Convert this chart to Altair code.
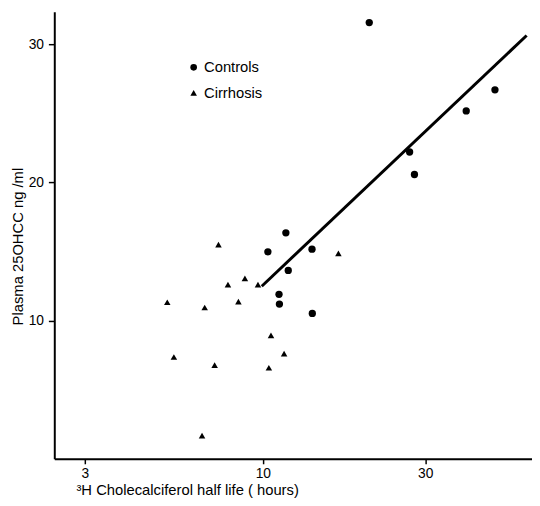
import altair as alt
import pandas as pd

# Controls (circles): half life (hours), plasma 25OHCC (ng/ml)
ctrl_x = [20.55, 48.1, 39.6, 27.0, 27.9, 11.69, 10.35, 13.95, 11.88, 11.16, 11.19, 13.98]
ctrl_y = [31.56, 26.7, 25.17, 22.2, 20.57, 16.35, 14.98, 15.17, 13.63, 11.9, 11.2, 10.52]

# Cirrhosis (triangles)
cirr_x = [7.41, 16.68, 8.86, 7.90, 9.68, 5.24, 8.48, 6.75, 10.57, 11.55, 5.48, 7.22, 10.42, 6.63]
cirr_y = [15.5, 14.86, 13.06, 12.6, 12.6, 11.33, 11.37, 10.95, 8.93, 7.61, 7.37, 6.78, 6.59, 1.68]

# Regression line (controls)
fit_x = [9.93, 59.6]
fit_y = [12.49, 30.63]

groups = ["Controls", "Cirrhosis"]
shapes = ["circle", "triangle-up"]
x_ticks = [3, 10, 30]
y_ticks = [10, 20, 30]

FONT = "Liberation Sans"

ctrl = pd.DataFrame({"x": ctrl_x, "y": ctrl_y, "group": groups[0]})
cirr = pd.DataFrame({"x": cirr_x, "y": cirr_y, "group": groups[1]})
fit = pd.DataFrame({"x": fit_x, "y": fit_y})

xscale = alt.Scale(type="log", domain=[2.44, 61.8], nice=False)
yscale = alt.Scale(domain=[0, 32.35], nice=False, zero=False)

xaxis = alt.Axis(
    values=x_ticks, format="~g", grid=False,
    title="³H Cholecalciferol half life ( hours)",
    titleX=22, titleY=36, titleAlign="left", titleAnchor="start",
    titleBaseline="alphabetic",
    titleFont=FONT, titleFontSize=15, titleFontWeight="normal", titleColor="black",
    labelFont=FONT, labelFontSize=14, labelColor="black", labelPadding=3,
    labelFlush=False,
    tickColor="black", tickSize=5, tickWidth=1.5,
    domainColor="black", domainWidth=2,
)
yaxis = alt.Axis(
    values=y_ticks, grid=False,
    title="Plasma 25OHCC ng /ml",
    titleX=-32, titleY=238, titleAngle=270, titleAlign="center",
    titleBaseline="alphabetic",
    titleFont=FONT, titleFontSize=15, titleFontWeight="normal", titleColor="black",
    labelFont=FONT, labelFontSize=14, labelColor="black", labelPadding=5,
    tickColor="black", tickSize=6, tickWidth=1.5,
    domainColor="black", domainWidth=2,
)

shape_enc = alt.Shape(
    "group:N",
    scale=alt.Scale(domain=groups, range=shapes),
    legend=alt.Legend(
        title=None, orient="none", legendX=134, legendY=49, padding=0,
        symbolSize=45, symbolFillColor="black", symbolStrokeColor="black",
        symbolStrokeWidth=0,
        labelFont=FONT, labelFontSize=15, labelColor="black",
        labelOffset=3, rowPadding=10,
    ),
)

line = alt.Chart(fit).mark_line(color="black", strokeWidth=3).encode(
    x=alt.X("x:Q", scale=xscale, axis=xaxis),
    y=alt.Y("y:Q", scale=yscale, axis=yaxis),
)

pts_c = alt.Chart(ctrl).mark_point(filled=True, color="black", opacity=1, size=55).encode(
    x=alt.X("x:Q", scale=xscale, axis=xaxis),
    y=alt.Y("y:Q", scale=yscale, axis=yaxis),
    shape=shape_enc,
)
pts_t = alt.Chart(cirr).mark_point(filled=True, color="black", opacity=1, size=44).encode(
    x=alt.X("x:Q", scale=xscale, axis=xaxis),
    y=alt.Y("y:Q", scale=yscale, axis=yaxis),
    shape=shape_enc,
)

chart = alt.layer(line, pts_c, pts_t).properties(
    width=485, height=454,
    padding={"left": 47, "top": 0, "right": 0, "bottom": 36},
    autosize=alt.AutoSizeParams(type="none"),
    background="white",
).configure_view(stroke=None)

chart.save("out.html", embed_options={"renderer": "svg", "actions": False})
